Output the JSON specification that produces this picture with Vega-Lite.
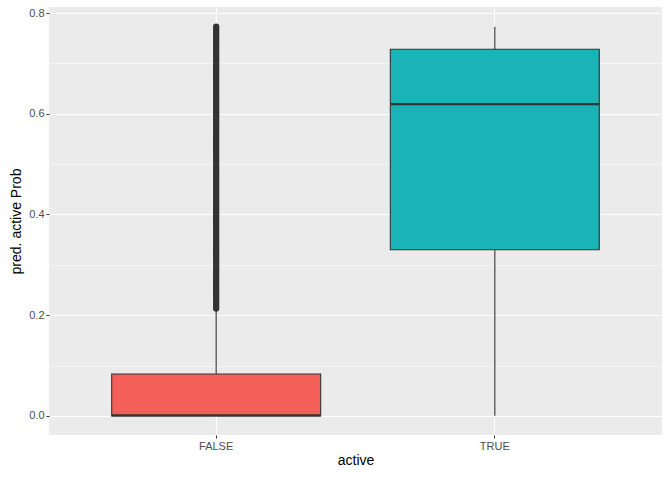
{
  "$schema": "https://vega.github.io/schema/vega-lite/v6.json",
  "width": 613,
  "height": 428,
  "autosize": {"type": "none"},
  "padding": {"left": 49, "top": 7, "right": 8, "bottom": 42},
  "background": "#FFFFFF",
  "datasets": {
    "stats": [
      {"active": "FALSE", "lo": 0, "q1": 0, "med": 0.001, "q3": 0.083, "hi": 0.21},
      {"active": "TRUE", "lo": 0, "q1": 0.33, "med": 0.619, "q3": 0.728, "hi": 0.773}
    ],
    "outliers": [
      {"active":"FALSE","p":0.213},{"active":"FALSE","p":0.218},{"active":"FALSE","p":0.223},{"active":"FALSE","p":0.228},
      {"active":"FALSE","p":0.233},{"active":"FALSE","p":0.238},{"active":"FALSE","p":0.243},{"active":"FALSE","p":0.248},
      {"active":"FALSE","p":0.253},{"active":"FALSE","p":0.258},{"active":"FALSE","p":0.263},{"active":"FALSE","p":0.268},
      {"active":"FALSE","p":0.273},{"active":"FALSE","p":0.278},{"active":"FALSE","p":0.283},{"active":"FALSE","p":0.288},
      {"active":"FALSE","p":0.293},{"active":"FALSE","p":0.298},{"active":"FALSE","p":0.303},{"active":"FALSE","p":0.308},
      {"active":"FALSE","p":0.313},{"active":"FALSE","p":0.318},{"active":"FALSE","p":0.323},{"active":"FALSE","p":0.328},
      {"active":"FALSE","p":0.333},{"active":"FALSE","p":0.338},{"active":"FALSE","p":0.343},{"active":"FALSE","p":0.348},
      {"active":"FALSE","p":0.353},{"active":"FALSE","p":0.358},{"active":"FALSE","p":0.363},{"active":"FALSE","p":0.368},
      {"active":"FALSE","p":0.373},{"active":"FALSE","p":0.378},{"active":"FALSE","p":0.383},{"active":"FALSE","p":0.388},
      {"active":"FALSE","p":0.393},{"active":"FALSE","p":0.398},{"active":"FALSE","p":0.403},{"active":"FALSE","p":0.408},
      {"active":"FALSE","p":0.413},{"active":"FALSE","p":0.418},{"active":"FALSE","p":0.423},{"active":"FALSE","p":0.428},
      {"active":"FALSE","p":0.433},{"active":"FALSE","p":0.438},{"active":"FALSE","p":0.443},{"active":"FALSE","p":0.448},
      {"active":"FALSE","p":0.453},{"active":"FALSE","p":0.458},{"active":"FALSE","p":0.463},{"active":"FALSE","p":0.468},
      {"active":"FALSE","p":0.473},{"active":"FALSE","p":0.478},{"active":"FALSE","p":0.483},{"active":"FALSE","p":0.488},
      {"active":"FALSE","p":0.493},{"active":"FALSE","p":0.498},{"active":"FALSE","p":0.503},{"active":"FALSE","p":0.508},
      {"active":"FALSE","p":0.513},{"active":"FALSE","p":0.518},{"active":"FALSE","p":0.523},{"active":"FALSE","p":0.528},
      {"active":"FALSE","p":0.533},{"active":"FALSE","p":0.538},{"active":"FALSE","p":0.543},{"active":"FALSE","p":0.548},
      {"active":"FALSE","p":0.553},{"active":"FALSE","p":0.558},{"active":"FALSE","p":0.563},{"active":"FALSE","p":0.568},
      {"active":"FALSE","p":0.573},{"active":"FALSE","p":0.578},{"active":"FALSE","p":0.583},{"active":"FALSE","p":0.588},
      {"active":"FALSE","p":0.593},{"active":"FALSE","p":0.598},{"active":"FALSE","p":0.603},{"active":"FALSE","p":0.608},
      {"active":"FALSE","p":0.613},{"active":"FALSE","p":0.618},{"active":"FALSE","p":0.623},{"active":"FALSE","p":0.628},
      {"active":"FALSE","p":0.633},{"active":"FALSE","p":0.638},{"active":"FALSE","p":0.643},{"active":"FALSE","p":0.648},
      {"active":"FALSE","p":0.653},{"active":"FALSE","p":0.658},{"active":"FALSE","p":0.663},{"active":"FALSE","p":0.668},
      {"active":"FALSE","p":0.673},{"active":"FALSE","p":0.678},{"active":"FALSE","p":0.683},{"active":"FALSE","p":0.688},
      {"active":"FALSE","p":0.693},{"active":"FALSE","p":0.698},{"active":"FALSE","p":0.703},{"active":"FALSE","p":0.708},
      {"active":"FALSE","p":0.713},{"active":"FALSE","p":0.718},{"active":"FALSE","p":0.723},{"active":"FALSE","p":0.728},
      {"active":"FALSE","p":0.733},{"active":"FALSE","p":0.738},{"active":"FALSE","p":0.743},{"active":"FALSE","p":0.748},
      {"active":"FALSE","p":0.753},{"active":"FALSE","p":0.758},{"active":"FALSE","p":0.763},{"active":"FALSE","p":0.768},
      {"active":"FALSE","p":0.773}
    ]
  },
  "layer": [
    {
      "data": {"name": "stats"},
      "mark": {"type": "rule", "color": "#333333", "strokeWidth": 1.1},
      "encoding": {
        "x": {
          "field": "active", "type": "nominal", "sort": ["FALSE", "TRUE"],
          "scale": {"paddingInner": 0.25, "paddingOuter": 0.225},
          "axis": {"title": "active", "labelAngle": 0, "grid": true, "gridWidth": 1.1, "labelPadding": 2, "titlePadding": 2}
        },
        "y": {
          "field": "lo", "type": "quantitative",
          "scale": {"domain": [-0.038, 0.812], "nice": false, "zero": false},
          "axis": {
            "orient": "left",
            "values": [0, 0.1, 0.2, 0.3, 0.4, 0.5, 0.6, 0.7, 0.8],
            "labelExpr": "round(datum.value * 10) % 2 == 0 ? format(datum.value, '.1f') : ''",
            "grid": true,
            "gridWidth": {"condition": {"test": "round(datum.value * 10) % 2 == 0", "value": 1.1}, "value": 0.55},
            "tickOpacity": {"condition": {"test": "round(datum.value * 10) % 2 == 0", "value": 1}, "value": 0},
            "labelPadding": 2,
            "title": "pred. active Prob",
            "titlePadding": 5
          }
        },
        "y2": {"field": "hi"}
      }
    },
    {
      "data": {"name": "stats"},
      "mark": {"type": "bar", "stroke": "#333333", "strokeWidth": 1.1},
      "encoding": {
        "x": {"field": "active", "type": "nominal", "sort": ["FALSE", "TRUE"]},
        "y": {"field": "q1", "type": "quantitative"},
        "y2": {"field": "q3"},
        "fill": {
          "field": "active", "type": "nominal",
          "scale": {"domain": ["FALSE", "TRUE"], "range": ["#F55F5A", "#19B3B8"]},
          "legend": null
        }
      }
    },
    {
      "data": {"name": "stats"},
      "mark": {"type": "bar", "stroke": "#333333", "strokeWidth": 2.2, "fillOpacity": 0},
      "encoding": {
        "x": {"field": "active", "type": "nominal", "sort": ["FALSE", "TRUE"]},
        "y": {"field": "med", "type": "quantitative"},
        "y2": {"field": "med"}
      }
    },
    {
      "data": {"name": "outliers"},
      "mark": {"type": "point", "filled": true, "color": "#333333", "size": 40, "opacity": 1},
      "encoding": {
        "x": {"field": "active", "type": "nominal", "sort": ["FALSE", "TRUE"]},
        "y": {"field": "p", "type": "quantitative"}
      }
    }
  ],
  "config": {
    "view": {"fill": "#EBEBEB", "stroke": null},
    "axis": {
      "domain": false,
      "gridColor": "#FFFFFF",
      "tickColor": "#333333",
      "tickSize": 3,
      "tickWidth": 1,
      "labelFont": "Liberation Sans",
      "labelFontSize": 11,
      "labelColor": "#4D4D4D",
      "titleFont": "Liberation Sans",
      "titleFontSize": 14,
      "titleFontWeight": "normal",
      "titleColor": "#000000"
    }
  }
}
